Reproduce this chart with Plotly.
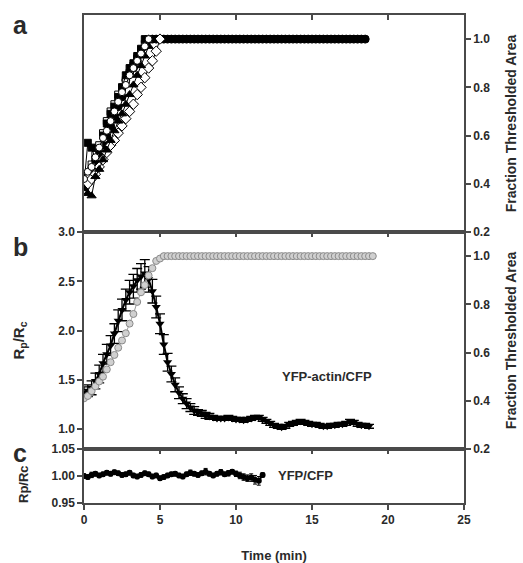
import plotly.graph_objects as go

DT = 0.25  # sampling interval (min)

# ---------------- panel a : fraction thresholded area, several cells ----------------
a_filled_circle = [0.40, 0.43, 0.46, 0.49, 0.52, 0.56, 0.60, 0.64, 0.68, 0.72,
                   0.76, 0.83, 0.86, 0.88, 0.91, 0.94, 0.97, 1.00, 1.00, 1.00,
                   1.00, 1.00, 1.00, 1.00, 1.00, 1.00, 1.00, 1.00, 1.00, 1.00,
                   1.00, 1.00, 1.00, 1.00, 1.00, 1.00, 1.00, 1.00, 1.00, 1.00,
                   1.00, 1.00, 1.00, 1.00, 1.00, 1.00, 1.00, 1.00, 1.00, 1.00,
                   1.00, 1.00, 1.00, 1.00, 1.00, 1.00, 1.00, 1.00, 1.00, 1.00,
                   1.00, 1.00, 1.00, 1.00, 1.00, 1.00, 1.00, 1.00, 1.00, 1.00,
                   1.00, 1.00, 1.00, 1.00, 1.00]
a_open_square = [0.41, 0.44, 0.48, 0.52, 0.56, 0.61, 0.66, 0.70, 0.73, 0.77,
                 0.80, 0.83, 0.86, 0.89, 0.92, 0.95, 0.98, 1.00]
a_filled_square = [0.40, 0.57, 0.55, 0.50, 0.54, 0.60, 0.65, 0.69, 0.72, 0.76,
                   0.80, 0.85, 0.88, 0.90, 0.93, 0.96, 1.00]
a_open_diamond = [0.38, 0.40, 0.42, 0.44, 0.47, 0.50, 0.53, 0.56, 0.58, 0.61,
                  0.64, 0.67, 0.70, 0.73, 0.77, 0.80, 0.84, 0.88, 0.91, 0.95, 1.00]
a_filled_triangle = [0.38, 0.36, 0.35, 0.43, 0.46, 0.50, 0.54, 0.58, 0.62, 0.66,
                     0.69, 0.73, 0.77, 0.81, 0.85, 0.89, 0.93, 0.97, 1.00]
a_open_circle = [0.42, 0.45, 0.47, 0.51, 0.55, 0.59, 0.62, 0.66, 0.70, 0.74,
                 0.78, 0.81, 0.85, 0.88, 0.91, 0.94, 0.97, 1.00]

# ---------------- panel b : YFP-actin/CFP ratio and fraction area ----------------
b_ratio = [1.37, 1.39, 1.42, 1.49, 1.56, 1.67, 1.76, 1.85,
           1.97, 2.10, 2.21, 2.31, 2.39, 2.45, 2.51, 2.55,
           2.58, 2.52, 2.40, 2.24, 2.07, 1.86, 1.68, 1.56,
           1.45, 1.37, 1.31, 1.26, 1.22, 1.19, 1.17, 1.16,
           1.14, 1.13, 1.12, 1.11, 1.11, 1.11, 1.12, 1.11,
           1.10, 1.10, 1.09, 1.10, 1.11, 1.12, 1.12, 1.10,
           1.08, 1.06, 1.04, 1.03, 1.02, 1.03, 1.05, 1.06,
           1.07, 1.08, 1.07, 1.06, 1.05, 1.05, 1.04, 1.03,
           1.03, 1.04, 1.04, 1.05, 1.05, 1.06, 1.08, 1.07,
           1.05, 1.04, 1.04, 1.03]
b_ratio_err = [0.06, 0.06, 0.07, 0.08, 0.09, 0.09, 0.10, 0.10,
               0.10, 0.11, 0.11, 0.11, 0.12, 0.12, 0.12, 0.13,
               0.14, 0.13, 0.12, 0.11, 0.10, 0.10, 0.09, 0.08,
               0.07, 0.06, 0.05, 0.05, 0.04, 0.04, 0.03, 0.03,
               0.03, 0.03, 0.02, 0.02, 0.02, 0.02, 0.02, 0.02,
               0.02, 0.02, 0.02, 0.02, 0.02, 0.02, 0.02, 0.02,
               0.02, 0.02, 0.02, 0.02, 0.02, 0.02, 0.02, 0.02,
               0.02, 0.02, 0.02, 0.02, 0.02, 0.02, 0.02, 0.02,
               0.02, 0.02, 0.02, 0.02, 0.02, 0.02, 0.02, 0.02,
               0.02, 0.02, 0.02, 0.02]
b_area = [0.41, 0.42, 0.44, 0.46, 0.48, 0.50, 0.53, 0.56, 0.59, 0.62,
          0.65, 0.68, 0.72, 0.76, 0.81, 0.85, 0.88, 0.92, 0.95, 0.98,
          0.99, 1.00, 1.00, 1.00, 1.00, 1.00, 1.00, 1.00, 1.00, 1.00,
          1.00, 1.00, 1.00, 1.00, 1.00, 1.00, 1.00, 1.00, 1.00, 1.00,
          1.00, 1.00, 1.00, 1.00, 1.00, 1.00, 1.00, 1.00, 1.00, 1.00,
          1.00, 1.00, 1.00, 1.00, 1.00, 1.00, 1.00, 1.00, 1.00, 1.00,
          1.00, 1.00, 1.00, 1.00, 1.00, 1.00, 1.00, 1.00, 1.00, 1.00,
          1.00, 1.00, 1.00, 1.00, 1.00, 1.00, 1.00]

# ---------------- panel c : YFP/CFP control ----------------
c_ratio = [1.000, 0.998, 1.002, 1.004, 1.001, 1.003, 1.006, 1.004,
           1.007, 1.005, 1.002, 1.003, 1.006, 1.001, 0.999, 1.002,
           1.005, 1.003, 0.999, 1.001, 0.996, 0.998, 1.001, 1.003,
           1.004, 1.001, 0.999, 1.003, 1.006, 1.004, 1.002, 1.005,
           1.008, 1.004, 1.001, 1.004, 1.007, 1.003, 1.005, 1.008,
           1.004, 1.001, 0.998, 0.996, 0.997, 0.993, 0.991, 1.002]
c_ratio_err = [0.004, 0.004, 0.005, 0.004, 0.004, 0.004, 0.004, 0.004,
               0.004, 0.004, 0.004, 0.004, 0.004, 0.004, 0.004, 0.004,
               0.004, 0.004, 0.004, 0.004, 0.004, 0.004, 0.004, 0.004,
               0.004, 0.004, 0.004, 0.004, 0.005, 0.004, 0.004, 0.004,
               0.006, 0.004, 0.004, 0.004, 0.005, 0.004, 0.005, 0.004,
               0.005, 0.006, 0.006, 0.006, 0.007, 0.008, 0.008, 0.004]

x_ticks = [0, 5, 10, 15, 20, 25]
b_left_ticks = [1.0, 1.5, 2.0, 2.5, 3.0]
area_ticks = [0.2, 0.4, 0.6, 0.8, 1.0]
c_left_ticks = [0.95, 1.00, 1.05]


def times(values):
    return [i * DT for i in range(len(values))]


FONT = "Liberation Sans, Arial, sans-serif"
TXT = "#2a2a2a"
AX = "#4a4a4a"

fig = go.Figure()

# panel a traces (x, y)
a_series = [
    (a_filled_circle, "circle", "black", 8),
    (a_open_square, "square", "white", 7),
    (a_filled_square, "square", "black", 7),
    (a_open_diamond, "diamond", "white", 8),
    (a_filled_triangle, "triangle-up", "black", 8),
    (a_open_circle, "circle", "white", 7),
]
for vals, sym, fill, size in a_series:
    fig.add_trace(go.Scatter(
        x=times(vals), y=vals, xaxis="x", yaxis="y", mode="lines+markers",
        line=dict(color="black", width=1),
        marker=dict(symbol=sym, color=fill, size=size, line=dict(color="black", width=1)),
        showlegend=False, hoverinfo="skip"))

# panel b: area (gray, right axis) then ratio (black, left axis)
fig.add_trace(go.Scatter(
    x=times(b_area), y=b_area, xaxis="x2", yaxis="y4", mode="lines+markers",
    line=dict(color="#9a9a9a", width=1),
    marker=dict(symbol="circle", color="#d0d0d0", size=7, line=dict(color="#8a8a8a", width=1)),
    showlegend=False, hoverinfo="skip"))
fig.add_trace(go.Scatter(
    x=times(b_ratio), y=b_ratio, xaxis="x2", yaxis="y3", mode="lines+markers",
    line=dict(color="black", width=2),
    marker=dict(symbol="triangle-down", color="black", size=8),
    error_y=dict(type="data", array=b_ratio_err, color="black", thickness=1.3, width=5),
    showlegend=False, hoverinfo="skip"))

# panel c
fig.add_trace(go.Scatter(
    x=times(c_ratio), y=c_ratio, xaxis="x3", yaxis="y5", mode="lines+markers",
    line=dict(color="black", width=2),
    marker=dict(symbol="circle", color="black", size=6),
    error_y=dict(type="data", array=c_ratio_err, color="black", thickness=1, width=2),
    showlegend=False, hoverinfo="skip"))
# empty trace so that the bottom time axis (x4) is drawn
fig.add_trace(go.Scatter(x=[None], y=[None], xaxis="x4", yaxis="y5", mode="markers",
                         showlegend=False, hoverinfo="skip"))

D_C = [0.0, 0.1107]
D_B = [0.1107, 0.5553]
D_A = [0.5553, 1.0]

tickfont = dict(family=FONT, size=12, color=TXT, weight="bold")
titlefont = dict(family=FONT, size=14, color=TXT, weight="bold")

common_x = dict(range=[0, 25], tickvals=x_ticks, showgrid=False, zeroline=False,
                showline=True, linecolor=AX, linewidth=1.5, tickcolor=AX,
                tickwidth=1.5, ticklen=5)
top_x = dict(common_x, side="top", ticks="inside", showticklabels=False, mirror=True)

common_y = dict(showgrid=False, zeroline=False, showline=True, linecolor=AX,
                linewidth=1.5, tickcolor=AX, tickwidth=1.5, ticklen=5,
                ticks="outside", tickfont=tickfont)

fig.update_layout(
    width=523, height=563,
    margin=dict(l=84, r=59, t=15, b=60, autoexpand=False),
    paper_bgcolor="white", plot_bgcolor="white",
    font=dict(family=FONT, color=TXT, weight="bold"),
    xaxis=dict(top_x, anchor="y"),
    xaxis2=dict(top_x, anchor="y3"),
    xaxis3=dict(top_x, anchor="y5"),
    xaxis4=dict(common_x, anchor="y5", overlaying="x3", side="bottom", ticks="outside",
                showticklabels=True, tickfont=tickfont,
                title=dict(text="Time (min)", font=dict(titlefont, size=13), standoff=25)),
    yaxis=dict(common_y, domain=D_A, range=[0.2, 1.1], side="right", mirror=True,
               tickvals=area_ticks, tickformat=".1f",
               title=dict(text="Fraction Thresholded Area", font=titlefont, standoff=17)),
    yaxis3=dict(common_y, domain=D_B, range=[0.8, 3.0], side="left",
                tickvals=b_left_ticks, tickformat=".1f",
                title=dict(text="R<sub>p</sub>/R<sub>c</sub>", font=dict(titlefont, size=15), standoff=30)),
    yaxis4=dict(common_y, domain=D_B, range=[0.2, 1.1], side="right", overlaying="y3",
                anchor="x2", tickvals=area_ticks, tickformat=".1f",
                title=dict(text="Fraction Thresholded Area", font=titlefont, standoff=17)),
    yaxis5=dict(common_y, domain=D_C, range=[0.95, 1.05], side="left", mirror=True,
                tickvals=c_left_ticks, tickformat=".2f"),
)

# panel letters
for letter, ypx in [("a", 25), ("b", 247), ("c", 453)]:
    fig.add_annotation(text=letter, xref="paper", yref="paper",
                       x=(20 - 84) / 380, y=(503 - ypx) / 488,
                       showarrow=False, xanchor="center", yanchor="middle",
                       font=dict(family=FONT, size=25, color=TXT, weight="bold"))

# left title of panel c (placed below the letter c, as in the original)
fig.add_annotation(text="Rp/Rc", xref="paper", yref="paper",
                   x=(23 - 84) / 380, y=(503 - 484) / 488, textangle=-90,
                   showarrow=False, xanchor="center", yanchor="middle",
                   font=dict(family=FONT, size=13, color=TXT, weight="bold"))

fig.add_annotation(text="YFP-actin/CFP", xref="x2", yref="y3", x=16.0, y=1.53,
                   showarrow=False, font=dict(family=FONT, size=13, color=TXT, weight="bold"))
fig.add_annotation(text="YFP/CFP", xref="x3", yref="y5", x=14.6, y=1.0,
                   showarrow=False, font=dict(family=FONT, size=13, color=TXT, weight="bold"))

fig.write_html("out.html", config={"displayModeBar": False},
               post_script="document.body.style.margin='0';")
